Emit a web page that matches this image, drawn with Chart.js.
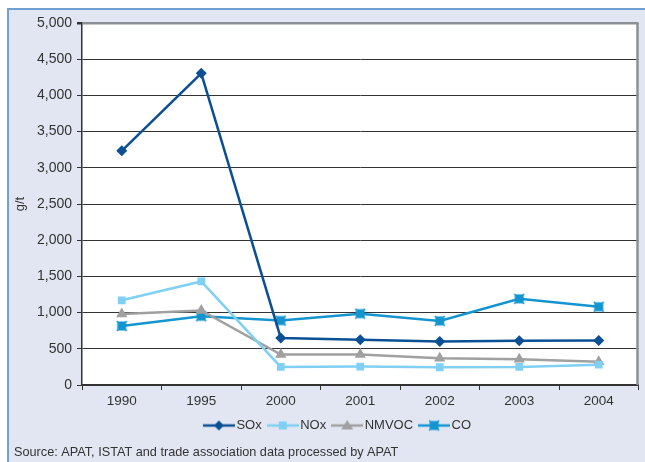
<!DOCTYPE html>
<html>
<head>
<meta charset="utf-8">
<script src="https://cdn.jsdelivr.net/npm/chart.js@4.4.0/dist/chart.umd.min.js"></script>
<style>
  html, body { margin: 0; padding: 0; background: #fff; }
</style>
</head>
<body>
<canvas id="chart" width="645" height="462"></canvas>
<script>
// dati (g/t)
const years = ['1990', '1995', '2000', '2001', '2002', '2003', '2004'];
const sox = [3235, 4305, 650, 625, 600, 610, 615];
const nox = [1170, 1430, 250, 255, 245, 250, 280];
const nmvoc = [980, 1030, 420, 420, 370, 355, 320];
const co = [815, 950, 890, 985, 885, 1190, 1080];
const yTicks = [0, 500, 1000, 1500, 2000, 2500, 3000, 3500, 4000, 4500, 5000];
const sourceText = 'Source: APAT, ISTAT and trade association data processed by APAT';

const FONT = "'Liberation Sans', Arial, sans-serif";
const TEXT = '#333333';
const colSOx = '#0b4f95';
const colNOx = '#80d0f4';
const colNMVOC = '#a0a0a0';
const colCO = '#1495d0';

// marcatore CO: quadrato con croce
function coMarker(color) {
  const c = document.createElement('canvas');
  c.width = 12; c.height = 12;
  const g = c.getContext('2d');
  g.fillStyle = color;
  g.fillRect(1.5, 1.5, 9, 9);
  g.strokeStyle = color;
  g.lineWidth = 1.2;
  g.beginPath();
  g.moveTo(1, 1); g.lineTo(11, 11);
  g.moveTo(11, 1); g.lineTo(1, 11);
  g.stroke();
  return c;
}

// icona legenda: linea + marcatore
function legendIcon(color, style) {
  const c = document.createElement('canvas');
  c.width = 32; c.height = 14;
  const g = c.getContext('2d');
  g.strokeStyle = color;
  g.lineWidth = 2.5;
  g.beginPath();
  g.moveTo(0, 7); g.lineTo(32, 7);
  g.stroke();
  if (style === 'co') {
    g.drawImage(coMarker(color), 10, 1);
  } else {
    g.fillStyle = color;
    g.beginPath();
    if (style === 'rectRot') {
      g.moveTo(16, 2); g.lineTo(21, 7); g.lineTo(16, 12); g.lineTo(11, 7);
    } else if (style === 'rect') {
      g.rect(12, 3, 8, 8);
    } else {
      g.moveTo(16, 1.5); g.lineTo(22, 11); g.lineTo(10, 11);
    }
    g.closePath();
    g.fill();
  }
  return c;
}

const bgPlugin = {
  id: 'bg',
  beforeDraw(chart) {
    const { ctx, chartArea: a } = chart;
    // sposta la legenda come nell'originale
    if (chart.legend) chart.legend.left = 39;
    ctx.save();
    ctx.fillStyle = '#ffffff';
    ctx.fillRect(0, 0, chart.width, chart.height);
    ctx.fillStyle = '#e1e6f2';
    ctx.fillRect(7, 8, chart.width - 7, chart.height - 8);
    ctx.strokeStyle = '#6f9fd3';
    ctx.lineWidth = 2;
    ctx.beginPath();
    ctx.moveTo(8, chart.height); ctx.lineTo(8, 9); ctx.lineTo(chart.width, 9);
    ctx.stroke();
    ctx.fillStyle = '#ffffff';
    ctx.fillRect(a.left, a.top, a.right - a.left, a.bottom - a.top);
    ctx.restore();
  },
  beforeDatasetsDraw(chart) {
    const { ctx, chartArea: a } = chart;
    ctx.save();
    ctx.strokeStyle = '#8a9096';
    ctx.lineWidth = 2.5;
    ctx.beginPath();
    ctx.moveTo(a.right - 1, a.top); ctx.lineTo(a.right - 1, a.bottom);
    ctx.stroke();
    ctx.restore();
  },
  afterDraw(chart) {
    const ctx = chart.ctx;
    ctx.save();
    ctx.font = '12.7px ' + FONT;
    ctx.fillStyle = TEXT;
    ctx.textBaseline = 'middle';
    ctx.fillText(sourceText, 14, 452);
    ctx.restore();
  }
};

const series = [
  { label: 'SOx', data: sox, color: colSOx, style: 'rectRot', radius: 5.5 },
  { label: 'NOx', data: nox, color: colNOx, style: 'rect', radius: 5.5 },
  { label: 'NMVOC', data: nmvoc, color: colNMVOC, style: 'triangle', radius: 6.5 },
  { label: 'CO', data: co, color: colCO, style: 'co', radius: 6 }
];

const ctx = document.getElementById('chart').getContext('2d');
new Chart(ctx, {
  type: 'line',
  data: {
    labels: years,
    datasets: series.map(s => ({
      label: s.label,
      data: s.data,
      borderColor: s.color,
      backgroundColor: s.color,
      borderWidth: 2.5,
      tension: 0,
      pointStyle: s.style === 'co' ? coMarker(s.color) : s.style,
      pointRadius: s.radius,
      pointBorderWidth: 0,
      icon: legendIcon(s.color, s.style)
    }))
  },
  options: {
    responsive: false,
    animation: false,
    layout: { padding: { left: 0, top: 23, right: 5, bottom: 20 } },
    scales: {
      x: {
        offset: true,
        afterFit: s => { s.height = 24; },
        grid: { offset: true, drawOnChartArea: false, drawTicks: true, tickLength: 5, color: TEXT },
        border: { color: TEXT, width: 1.5 },
        ticks: { color: TEXT, font: { family: FONT, size: 13.5 }, padding: 3, maxRotation: 0 }
      },
      y: {
        min: 0,
        max: 5000,
        afterFit: s => { s.width = 82; },
        afterBuildTicks: s => { s.ticks = yTicks.map(v => ({ value: v })); },
        grid: {
          color: c => (c.tick && c.tick.value === 5000 ? '#8a9096' : TEXT),
          lineWidth: c => (c.tick && c.tick.value === 5000 ? 2.5 : 1),
          tickLength: 5,
          tickColor: TEXT
        },
        border: { color: TEXT, width: 1.5 },
        ticks: {
          color: TEXT,
          font: { family: FONT, size: 14 },
          padding: 5,
          callback: v => v.toLocaleString('en-US')
        },
        title: {
          display: true,
          text: 'g/t',
          color: TEXT,
          font: { family: FONT, size: 13 },
          padding: { top: 13, bottom: 0 }
        }
      }
    },
    plugins: {
      tooltip: { enabled: false },
      legend: {
        position: 'bottom',
        labels: {
          usePointStyle: true,
          pointStyleWidth: 22,
          padding: 10,
          color: TEXT,
          font: { family: FONT, size: 13 },
          generateLabels: chart => chart.data.datasets.map((d, i) => ({
            text: d.label,
            pointStyle: d.icon,
            fillStyle: d.borderColor,
            strokeStyle: 'transparent',
            lineWidth: 0,
            fontColor: TEXT,
            hidden: false,
            datasetIndex: i
          }))
        }
      }
    }
  },
  plugins: [bgPlugin]
});
</script>
</body>
</html>
